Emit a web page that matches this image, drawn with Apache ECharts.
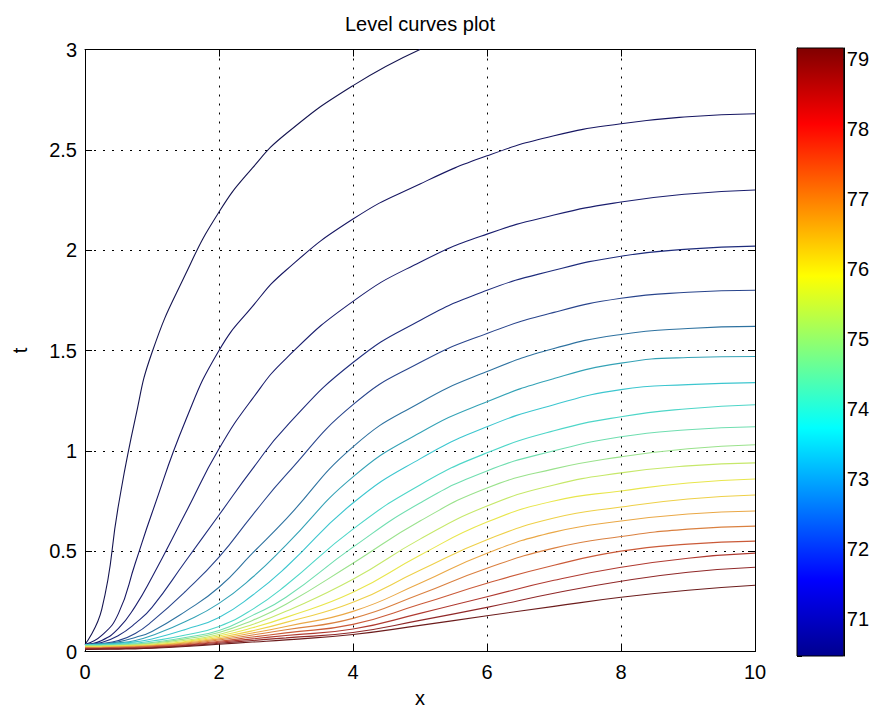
<!DOCTYPE html>
<html>
<head>
<meta charset="utf-8">
<script src="https://cdn.jsdelivr.net/npm/echarts@6/dist/echarts.min.js"></script>
<style>html,body{margin:0;padding:0;background:#fff}#c{width:872px;height:715px}</style>
</head>
<body>
<div id="c"></div>
<script>
// ---- data ----
const titleText = 'Level curves plot';
const xName = 'x';
const tName = 't';
const xTicks = [0, 2, 4, 6, 8, 10];
const tTicks = [0, 0.5, 1, 1.5, 2, 2.5, 3];
const cbTicks = [71, 72, 73, 74, 75, 76, 77, 78, 79];
const cbRange = [70.47, 79.16];
const jetOffsets = [0, 0.125, 0.375, 0.625, 0.875, 1];
const jetColors = ['#00008F', '#0000FF', '#00FFFF', '#FFFF00', '#FF0000', '#800000'];

// shared x positions for curves 2..20
const xs = [0, 0.25, 0.5, 0.75, 1, 1.5, 2, 2.5, 3, 4, 5, 6, 7, 8, 9, 10];
// curve 1 leaves the plot through the top edge
const x01 = [0, 0.25, 0.5, 0.75, 1, 1.5, 2, 2.5, 3, 4, 5];
const t01 = [0.035, 0.21, 0.73, 1.16, 1.49, 1.88, 2.19, 2.41, 2.58, 2.82, 3.0];
const t02 = [0.035, 0.08, 0.19, 0.44, 0.69, 1.15, 1.5, 1.72, 1.9, 2.155, 2.33, 2.47, 2.57, 2.63, 2.665, 2.68];
const t03 = [0.035, 0.055, 0.115, 0.225, 0.37, 0.69, 1.01, 1.26, 1.46, 1.745, 1.94, 2.08, 2.175, 2.24, 2.28, 2.30];
const t04 = [0.035, 0.045, 0.08, 0.14, 0.22, 0.45, 0.68, 0.91, 1.12, 1.44, 1.65, 1.80, 1.90, 1.97, 2.005, 2.02];
const t05 = [0.035, 0.04, 0.055, 0.09, 0.15, 0.30, 0.47, 0.68, 0.88, 1.23, 1.44, 1.585, 1.69, 1.76, 1.79, 1.80];
const t06 = [0.035, 0.038, 0.048, 0.07, 0.10, 0.20, 0.32, 0.49, 0.66, 1.02, 1.24, 1.395, 1.51, 1.58, 1.61, 1.62];
const t07 = [0.035, 0.037, 0.043, 0.055, 0.08, 0.15, 0.24, 0.37, 0.53, 0.87, 1.09, 1.245, 1.36, 1.437, 1.465, 1.47];
const t08 = [0.035, 0.036, 0.04, 0.048, 0.062, 0.11, 0.17, 0.28, 0.42, 0.74, 0.96, 1.12, 1.23, 1.305, 1.33, 1.34];
const t09 = [0.032, 0.033, 0.036, 0.042, 0.052, 0.082, 0.125, 0.21, 0.33, 0.61, 0.83, 0.99, 1.10, 1.17, 1.21, 1.23];
const t10 = [0.03, 0.031, 0.033, 0.038, 0.045, 0.07, 0.105, 0.18, 0.27, 0.52, 0.74, 0.90, 1.00, 1.07, 1.105, 1.12];
const t11 = [0.028, 0.029, 0.031, 0.035, 0.041, 0.063, 0.095, 0.155, 0.235, 0.44, 0.65, 0.815, 0.91, 0.97, 1.01, 1.03];
const t12 = [0.026, 0.027, 0.029, 0.032, 0.037, 0.056, 0.085, 0.135, 0.20, 0.36, 0.56, 0.725, 0.83, 0.89, 0.925, 0.94];
const t13 = [0.024, 0.025, 0.027, 0.03, 0.034, 0.05, 0.077, 0.118, 0.17, 0.295, 0.48, 0.645, 0.75, 0.80, 0.84, 0.86];
const t14 = [0.022, 0.023, 0.025, 0.028, 0.031, 0.046, 0.07, 0.103, 0.145, 0.245, 0.405, 0.557, 0.665, 0.72, 0.76, 0.78];
const t15 = [0.02, 0.021, 0.023, 0.026, 0.029, 0.042, 0.063, 0.092, 0.125, 0.20, 0.34, 0.49, 0.595, 0.65, 0.685, 0.70];
const t16 = [0.018, 0.019, 0.021, 0.024, 0.027, 0.038, 0.057, 0.082, 0.108, 0.165, 0.285, 0.415, 0.515, 0.573, 0.61, 0.625];
const t17 = [0.016, 0.017, 0.019, 0.021, 0.024, 0.034, 0.051, 0.072, 0.093, 0.135, 0.235, 0.34, 0.43, 0.50, 0.535, 0.55];
const t18 = [0.014, 0.015, 0.016, 0.018, 0.021, 0.031, 0.046, 0.063, 0.08, 0.112, 0.19, 0.273, 0.355, 0.42, 0.465, 0.49];
const t19 = [0.012, 0.013, 0.014, 0.016, 0.018, 0.028, 0.041, 0.055, 0.068, 0.095, 0.155, 0.22, 0.29, 0.35, 0.395, 0.42];
const t20 = [0.01, 0.011, 0.012, 0.013, 0.016, 0.025, 0.036, 0.047, 0.058, 0.085, 0.13, 0.178, 0.225, 0.27, 0.305, 0.33];

const curveColors = ['#141450', '#161662', '#1a1e6e', '#1e2c7c', '#28448c', '#2e72a0', '#34a2b6', '#3cc6cf', '#4ed6c8',
  '#70deb0', '#9ae28c', '#c6e86a', '#e8e64c', '#eed048', '#eaa846', '#da8040', '#ca5a38', '#b03a30', '#902828', '#6c1c1c'];

// ---- chart ----
const FONT = '"Liberation Sans", Arial, sans-serif';
const curves = [[x01, t01], [xs, t02], [xs, t03], [xs, t04], [xs, t05], [xs, t06], [xs, t07], [xs, t08], [xs, t09], [xs, t10],
  [xs, t11], [xs, t12], [xs, t13], [xs, t14], [xs, t15], [xs, t16], [xs, t17], [xs, t18], [xs, t19], [xs, t20]];

const series = curves.map(function (c, i) {
  return {
    type: 'line', xAxisIndex: 0, yAxisIndex: 0,
    data: c[0].map(function (x, k) { return [x, c[1][k]]; }),
    showSymbol: false, smooth: 0.5, silent: true, clip: true,
    lineStyle: { color: curveColors[i], width: 1.1 }
  };
});

series.push({
  type: 'custom', xAxisIndex: 2, yAxisIndex: 2, silent: true,
  data: [[0, 1, cbRange[0], cbRange[1]]],
  encode: { x: [0, 1], y: [2, 3] },
  renderItem: function (params, api) {
    const p0 = api.coord([api.value(0), api.value(2)]);
    const p1 = api.coord([api.value(1), api.value(3)]);
    return {
      type: 'rect',
      shape: { x: p0[0], y: p1[1], width: p1[0] - p0[0], height: p0[1] - p1[1] },
      style: {
        fill: new echarts.graphic.LinearGradient(0, 1, 0, 0,
          jetOffsets.map(function (o, k) { return { offset: o, color: jetColors[k] }; })),
        stroke: '#000', lineWidth: 1
      }
    };
  }
});

const tickFont = { fontFamily: FONT, fontSize: 20, color: '#000' };
const boxLine = { show: true, onZero: false, lineStyle: { color: '#000', width: 1 } };
const dotted = { show: true, lineStyle: { color: '#000', width: 1, type: [2, 7] } };

const option = {
  backgroundColor: '#fff',
  animation: false,
  graphic: [{
    type: 'text', x: 420, y: 14,
    style: { text: titleText, textAlign: 'center', textVerticalAlign: 'top', font: '20px ' + FONT, fill: '#000' }
  }],
  grid: [
    { left: 85, top: 49.5, width: 670, height: 602 },
    { left: 797, top: 48, width: 49, height: 608 }
  ],
  xAxis: [
    { gridIndex: 0, type: 'value', min: xTicks[0], max: xTicks[xTicks.length - 1], interval: 2, position: 'bottom',
      axisLine: boxLine, axisTick: { inside: true, length: 7, lineStyle: { color: '#000' } },
      axisLabel: Object.assign({ margin: 10 }, tickFont), splitLine: dotted,
      name: xName, nameLocation: 'middle', nameGap: 36, nameTextStyle: tickFont },
    { gridIndex: 0, type: 'value', min: xTicks[0], max: xTicks[xTicks.length - 1], interval: 2, position: 'top',
      axisLine: boxLine, axisTick: { inside: true, length: 7, lineStyle: { color: '#000' } },
      axisLabel: { show: false }, splitLine: { show: false } },
    { gridIndex: 1, type: 'value', min: 0, max: 1, show: false }
  ],
  yAxis: [
    { gridIndex: 0, type: 'value', min: tTicks[0], max: tTicks[tTicks.length - 1], interval: 0.5, position: 'left',
      axisLine: boxLine, axisTick: { inside: true, length: 7, lineStyle: { color: '#000' } },
      axisLabel: Object.assign({ margin: 8 }, tickFont), splitLine: dotted,
      name: tName, nameLocation: 'middle', nameGap: 55, nameRotate: 90, nameTextStyle: tickFont },
    { gridIndex: 0, type: 'value', min: tTicks[0], max: tTicks[tTicks.length - 1], interval: 0.5, position: 'right',
      axisLine: boxLine, axisTick: { inside: true, length: 7, lineStyle: { color: '#000' } },
      axisLabel: { show: false }, splitLine: { show: false } },
    { gridIndex: 1, type: 'value', min: cbRange[0], max: cbRange[1], splitNumber: 9, position: 'left',
      axisLine: boxLine, axisTick: { inside: true, length: 5, lineStyle: { color: '#000' } },
      axisLabel: { show: false }, splitLine: { show: false } },
    { gridIndex: 1, type: 'value', min: cbRange[0], max: cbRange[1], splitNumber: 9, position: 'right',
      axisLine: boxLine, axisTick: { inside: true, length: 5, lineStyle: { color: '#000' } },
      axisLabel: Object.assign({
        margin: 3, showMinLabel: false, showMaxLabel: false,
        formatter: function (v) { return cbTicks.indexOf(Math.round(v * 1000) / 1000) >= 0 ? String(v) : ''; }
      }, tickFont),
      splitLine: { show: false } }
  ],
  series: series
};

const chart = echarts.init(document.getElementById('c'), null, { renderer: 'svg', width: 872, height: 715 });
chart.setOption(option);
</script>
</body>
</html>
